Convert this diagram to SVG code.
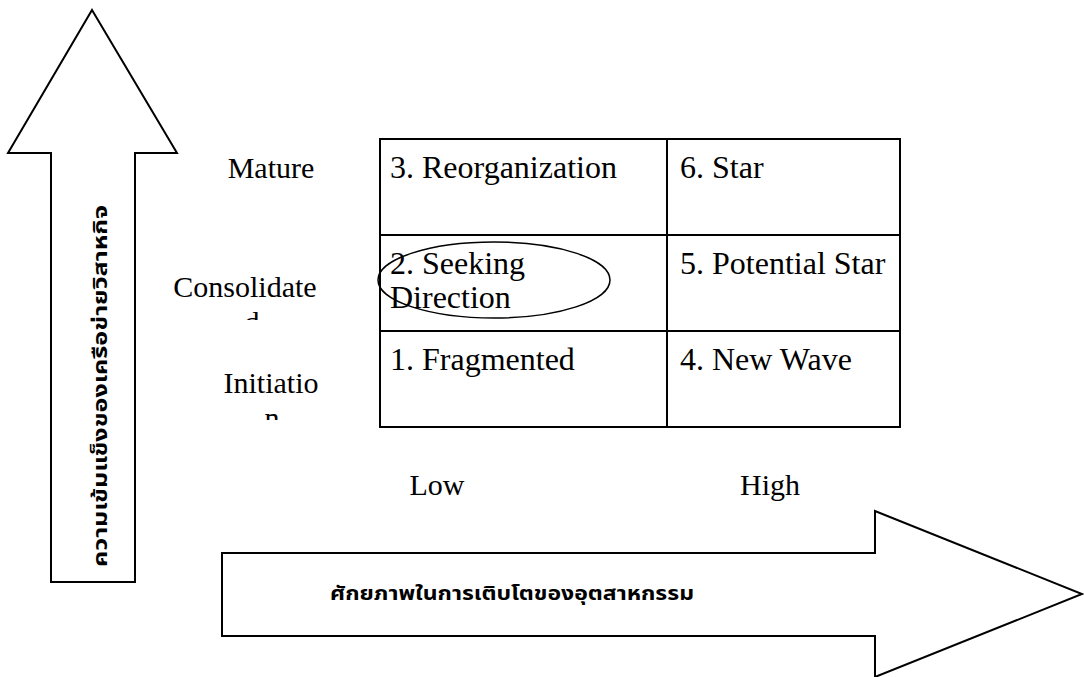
<svg xmlns="http://www.w3.org/2000/svg" width="1084" height="677" viewBox="0 0 1084 677">
<style>
.shape{fill:#fff;stroke:#000;stroke-width:2;stroke-linejoin:miter}
.t{font-family:"Liberation Serif","Times New Roman",serif;font-size:30px;fill:#000}
.c{font-family:"Liberation Serif","Times New Roman",serif;font-size:32px;fill:#000}
.th{font-family:"Noto Sans Thai","Noto Serif Thai","Loma","Garuda","Tlwg Typo","DejaVu Sans",sans-serif;font-weight:bold;fill:#000}
</style>
<defs>
<clipPath id="clipC"><rect x="150" y="260" width="200" height="60"/></clipPath>
<clipPath id="clipI"><rect x="150" y="360" width="200" height="60"/></clipPath>
</defs>
<rect width="1084" height="677" fill="#fff"/>
<g id="arrow-up">
<polygon class="shape" points="92,10 177,153 135,153 135,582 51,582 51,153 8,153"/>
<text class="th" font-size="19" transform="translate(101,386) rotate(-90)" text-anchor="middle" dominant-baseline="central" textLength="362" lengthAdjust="spacingAndGlyphs">ความเข้มแข็งของเครือข่ายวิสาหกิจ</text>
</g>
<g id="arrow-right">
<polygon class="shape" points="222,553 875,553 875,511 1082,594 875,677 875,636 222,636"/>
<text class="th" font-size="19" x="512" y="594" text-anchor="middle" dominant-baseline="central" textLength="364" lengthAdjust="spacingAndGlyphs">ศักยภาพในการเติบโตของอุตสาหกรรม</text>
</g>
<g id="matrix">
<rect class="shape" x="380" y="139" width="520" height="288"/>
<line class="shape" x1="380" y1="235" x2="900" y2="235"/>
<line class="shape" x1="380" y1="331" x2="900" y2="331"/>
<line class="shape" x1="667" y1="139" x2="667" y2="427"/>
</g>
<g id="cell-3"><text class="c" x="390" y="178">3. Reorganization</text></g>
<g id="cell-6"><text class="c" x="680" y="178">6. Star</text></g>
<g id="cell-2"><text class="c" x="390" y="274">2. Seeking</text><text class="c" x="390" y="308">Direction</text></g>
<g id="cell-5"><text class="c" x="680" y="274">5. Potential Star</text></g>
<g id="cell-1"><text class="c" x="390" y="370">1. Fragmented</text></g>
<g id="cell-4"><text class="c" x="680" y="370">4. New Wave</text></g>
<g id="highlight"><ellipse cx="494" cy="280" rx="116" ry="38" fill="none" stroke="#000" stroke-width="1.5"/></g>
<g id="labels-y">
<text class="t" x="271" y="178" text-anchor="middle">Mature</text>
<g clip-path="url(#clipC)"><text class="t" x="245" y="297" text-anchor="middle">Consolidate</text><text class="t" x="252" y="332" text-anchor="middle">d</text></g>
<g clip-path="url(#clipI)"><text class="t" x="271" y="393" text-anchor="middle">Initiatio</text><text class="t" x="272" y="428" text-anchor="middle">n</text></g>
</g>
<g id="labels-x">
<text class="t" x="437" y="495" text-anchor="middle">Low</text>
<text class="t" x="770" y="495" text-anchor="middle">High</text>
</g>
</svg>
